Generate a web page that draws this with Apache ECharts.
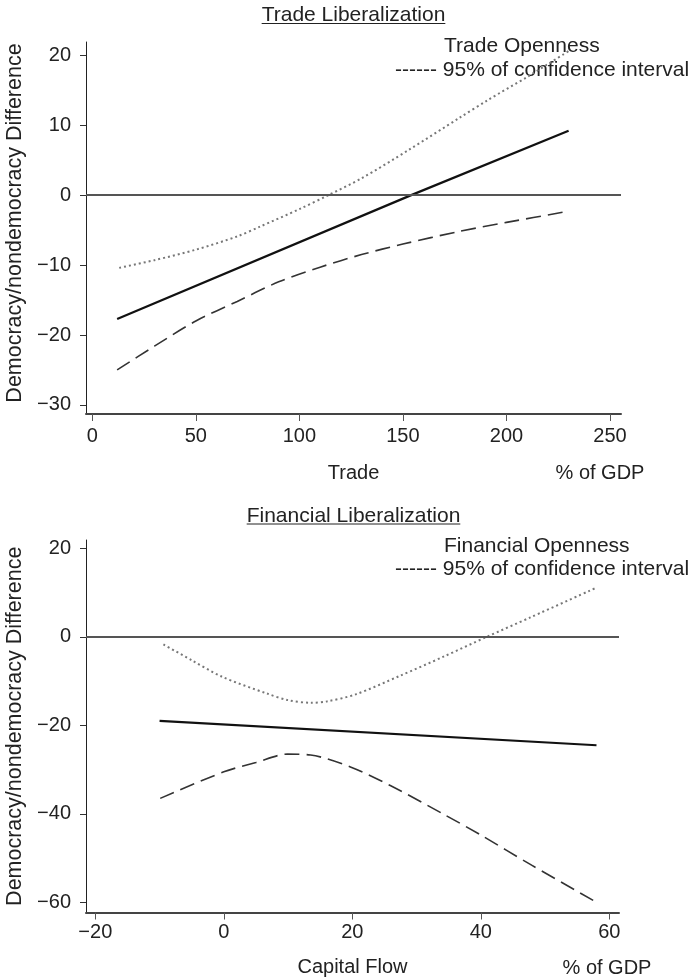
<!DOCTYPE html>
<html>
<head>
<meta charset="utf-8">
<script src="https://cdn.jsdelivr.net/npm/echarts@6/dist/echarts.min.js"></script>
<style>
html,body{margin:0;padding:0;background:#fff;}
#chart{width:695px;height:980px;}
</style>
</head>
<body>
<div id="chart"></div>
<script>
// ---- Data ----
// Top panel: Trade Liberalization
const tradeTicks = [0, 50, 100, 150, 200, 250];
const tradeYTicks = [-30, -20, -10, 0, 10, 20];
const tradeFitX = [12, 154, 230];
const tradeFitY = [-17.7, 0, 9.2];
const tradeUpperX = [13, 30, 50, 70, 81, 100, 114, 130, 153, 177, 191, 210, 230];
const tradeUpperY = [-10.4, -9.3, -7.8, -5.9, -4.5, -2.0, 0, 2.4, 6.5, 11.0, 13.6, 16.9, 20.6];
const tradeLowerX = [12, 30, 50, 70, 90, 110, 130, 150, 177, 200, 230];
const tradeLowerY = [-25, -21.6, -18, -15.2, -12.4, -10.3, -8.5, -7.0, -5.2, -3.9, -2.3];

// Bottom panel: Financial Liberalization
const finTicks = [-20, 0, 20, 40, 60];
const finYTicks = [-60, -40, -20, 0, 20];
const finFitX = [-10, 58];
const finFitY = [-19, -24.5];
const finUpperX = [-9.4, -5.1, -0.3, 6.7, 10, 13.6, 16, 20.5, 27.4, 34.3, 40.9, 47.7, 58.1];
const finUpperY = [-1.7, -5.2, -9.0, -12.8, -14.3, -14.9, -14.6, -13.0, -8.8, -4.4, 0, 4.4, 11.2];
const finLowerX = [-9.9, 0, 5, 9.9, 13.5, 19.7, 25.9, 34.1, 40, 47.9, 58];
const finLowerY = [-36.5, -30.5, -28.4, -26.5, -26.7, -29.4, -33.6, -40.0, -44.8, -51.6, -60];

// Texts
const titles = ['Trade Liberalization', 'Financial Liberalization'];
const legendMain = ['Trade Openness', 'Financial Openness'];
const legendCI = '------ 95% of confidence interval';
const xNames = ['Trade', 'Capital Flow'];
const unitName = '% of GDP';
const yName = 'Democracy/nondemocracy Difference';

// ---- Helpers ----
const FONT = "'Liberation Sans', Arial, Helvetica, sans-serif";
const TXT = '#222';
function zip(xs, ys) { return xs.map((x, i) => [x, ys[i]]); }
function textWidth(str, size) {
  const c = document.createElement('canvas').getContext('2d');
  c.font = size + 'px ' + FONT;
  return c.measureText(str).width;
}
function minusFmt(v) { return String(v).replace('-', '\u2212'); }

const chart = echarts.init(document.getElementById('chart'), null, {renderer: 'canvas'});

function xAxisCfg(idx, min, max, ticks, name, nameGap, margin) {
  return {
    type: 'value', gridIndex: idx, min: min, max: max,
    name: name, nameLocation: 'middle', nameGap: nameGap,
    nameTextStyle: {fontFamily: FONT, fontSize: 20, color: TXT},
    axisLine: {show: true, onZero: false, lineStyle: {color: '#444', width: 2}},
    axisTick: {show: true, length: 7, customValues: ticks, lineStyle: {color: '#555', width: 1}},
    axisLabel: {customValues: ticks, margin: margin, fontFamily: FONT, fontSize: 20, color: TXT, formatter: minusFmt},
    splitLine: {show: false}
  };
}
function yAxisCfg(idx, min, max, ticks, pad) {
  return {
    type: 'value', gridIndex: idx, min: min, max: max,
    name: yName, nameLocation: 'middle', nameGap: 58,
    nameTextStyle: {fontFamily: FONT, fontSize: 21.5, color: TXT, padding: pad},
    axisLine: {show: true, onZero: false, lineStyle: {color: '#222', width: 1}},
    axisTick: {show: true, length: 6, customValues: ticks, lineStyle: {color: '#333', width: 1}},
    axisLabel: {customValues: ticks, margin: 15, fontFamily: FONT, fontSize: 20, color: TXT, formatter: minusFmt},
    splitLine: {show: false}
  };
}
function fitSeries(idx, data) {
  return {
    type: 'line', xAxisIndex: idx, yAxisIndex: idx, data: data,
    showSymbol: false, symbol: 'none',
    lineStyle: {color: '#111', width: 2.2},
    markLine: {
      silent: true, symbol: ['none', 'none'], label: {show: false},
      lineStyle: {color: '#555', width: 2, type: 'solid'},
      data: [{yAxis: 0}]
    },
    z: 3
  };
}
function ciSeries(idx, data, kind) {
  const ls = kind === 'dot'
    ? {color: '#777', width: 2, type: [2, 3]}
    : {color: '#333', width: 1.6, type: [15, 7]};
  return {
    type: 'line', xAxisIndex: idx, yAxisIndex: idx, data: data,
    showSymbol: false, symbol: 'none', smooth: 0.3,
    lineStyle: ls, z: 2
  };
}

// graphic (titles with underline, legend texts, unit labels)
const graphics = [];
const titleY = [15, 516];
const underY = [23.5, 524];
const titleCx = 353.5;
titles.forEach((t, i) => {
  const w = textWidth(t, 21);
  graphics.push({type: 'text', x: titleCx, y: titleY[i],
    style: {text: t, font: '21px ' + FONT, fill: TXT, align: 'center', verticalAlign: 'middle'}});
  graphics.push({type: 'line', shape: {x1: titleCx - w / 2, y1: underY[i], x2: titleCx + w / 2, y2: underY[i]},
    style: {stroke: TXT, lineWidth: 1}});
});
const legY1 = [46, 546.5];
const legY2 = [70, 569];
legendMain.forEach((t, i) => {
  graphics.push({type: 'text', x: 444, y: legY1[i],
    style: {text: t, font: '21px ' + FONT, fill: TXT, align: 'left', verticalAlign: 'middle'}});
  graphics.push({type: 'text', x: 395, y: legY2[i],
    style: {text: legendCI, font: '21px ' + FONT, fill: TXT, align: 'left', verticalAlign: 'middle'}});
});
const unitPos = [[600, 473], [607, 968]];
unitPos.forEach(p => {
  graphics.push({type: 'text', x: p[0], y: p[1],
    style: {text: unitName, font: '20px ' + FONT, fill: TXT, align: 'center', verticalAlign: 'middle'}});
});

const option = {
  animation: false,
  backgroundColor: '#fff',
  textStyle: {fontFamily: FONT},
  grid: [
    {left: 86, top: 42, width: 535, height: 372, containLabel: false, outerBoundsMode: 'none'},
    {left: 86, top: 540, width: 533, height: 372.5, containLabel: false, outerBoundsMode: 'none'}
  ],
  xAxis: [
    xAxisCfg(0, -3.04, 255.3, tradeTicks, xNames[0], 49, 12),
    xAxisCfg(1, -21.45, 61.5, finTicks, xNames[1], 45, 10)
  ],
  yAxis: [
    yAxisCfg(0, -31.3, 21.9, tradeYTicks, [0, 0, 0, 10]),
    yAxisCfg(1, -62.3, 21.9, finYTicks, 0)
  ],
  series: [
    fitSeries(0, zip(tradeFitX, tradeFitY)),
    ciSeries(0, zip(tradeUpperX, tradeUpperY), 'dot'),
    ciSeries(0, zip(tradeLowerX, tradeLowerY), 'dash'),
    fitSeries(1, zip(finFitX, finFitY)),
    ciSeries(1, zip(finUpperX, finUpperY), 'dot'),
    ciSeries(1, zip(finLowerX, finLowerY), 'dash')
  ],
  graphic: graphics
};
chart.setOption(option);
</script>
</body>
</html>
